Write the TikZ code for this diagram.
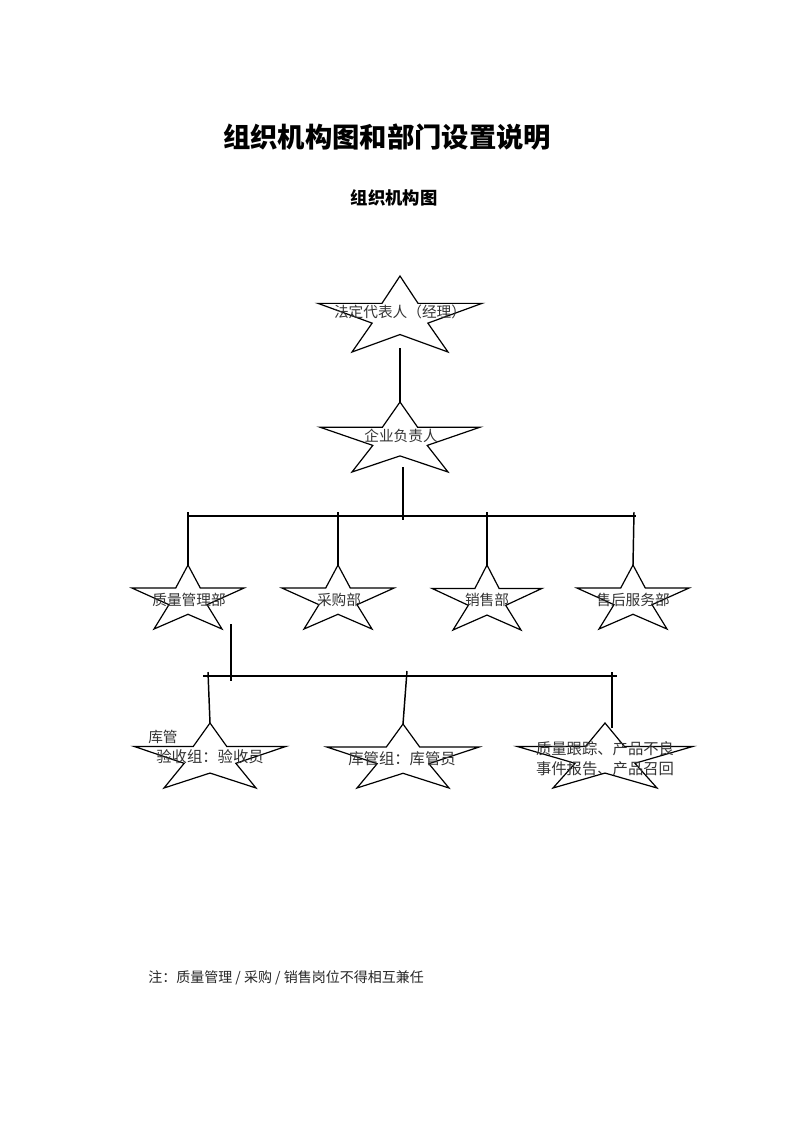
\documentclass[tikz,border=0pt]{standalone}
\usepackage{fontspec}
\setmainfont{Noto Sans CJK SC}
\newcommand\drawstar[6]{%
  \coordinate (#1-top) at (#2,#3);
  \draw[starline] (#2,#3) -- ({#2+0.22*#4},{#3+0.36*#5}) -- ({#2+#4},{#3+0.36*#5})
    -- ({#2+0.34*#4},{#3+0.62*#5}) -- ({#2+#6},{#3+#5}) -- (#2,{#3+0.77*#5})
    -- ({#2-#6},{#3+#5}) -- ({#2-0.34*#4},{#3+0.62*#5}) -- ({#2-#4},{#3+0.36*#5})
    -- ({#2-0.22*#4},{#3+0.36*#5}) -- cycle;
}
\begin{document}
\begin{tikzpicture}[x=0.75pt,y=-0.75pt,
  starline/.style={draw=black,line width=0.9pt,line join=miter},
  conn/.style={draw=black,line width=1.1pt},
  bus/.style={draw=black,line width=1.4pt},
  lbl/.style={inner sep=0pt,text=black!80,font=\fontsize{11}{13}\selectfont},
  lblb/.style={lbl,font=\fontsize{11.5}{14}\selectfont},
  ttl/.style={inner sep=0pt,font=\fontsize{20.5}{24}\selectfont\bfseries},
  sub/.style={inner sep=0pt,font=\fontsize{13}{16}\selectfont\bfseries}]
\useasboundingbox (0,0) rectangle (793,1122);
% titles
\node[ttl] (title) at (387,137) {组织机构图和部门设置说明};
\node[sub] (subtitle) at (394,198) {组织机构图};
% stars
\drawstar{s1}{400}{276}{82}{76}{48}
\drawstar{s2}{400}{402}{80}{70}{48}
\drawstar{q}{188}{565}{56}{64}{34}
\drawstar{c}{338}{565}{56}{64}{34}
\drawstar{x}{487}{565}{55}{65}{34}
\drawstar{h}{633}{565}{56}{64}{34}
\drawstar{y}{210}{723}{76}{65}{46}
\drawstar{k}{403}{724}{76}{64}{46}
\drawstar{z}{605}{723}{88}{65}{52}
% labels
\node[lbl] (l1) at (400,312) {法定代表人（经理）};
\node[lbl] (l2) at (401,436) {企业负责人};
\node[lbl] (lq) at (189,600) {质量管理部};
\node[lbl] (lc) at (339,600) {采购部};
\node[lbl] (lx) at (487,600) {销售部};
\node[lbl] (lh) at (633,600) {售后服务部};
\node[lbl,anchor=west] (lkg) at (148,737) {库管};
\node[lblb] (ly) at (210,757) {验收组：验收员};
\node[lblb] (lk) at (402,759) {库管组：库管员};
\node[lblb,align=center] (lz) at (605,759) {质量跟踪、产品不良\\[1pt]事件报告、产品召回};
% connector coordinates
\coordinate (s1b) at (400,348);
\coordinate (s2b) at (403,467);
\coordinate (b1m) at (403,520);
\coordinate (b1l) at (187,516);
\coordinate (b1r) at (636,516);
\coordinate (tq) at (188,512);
\coordinate (tc) at (338,512);
\coordinate (tx) at (487,512);
\coordinate (th) at (634,512);
\coordinate (qb) at (231,624);
\coordinate (b2m) at (231,681);
\coordinate (b2l) at (203,676);
\coordinate (b2r) at (617,676);
\coordinate (ty) at (208,672);
\coordinate (tk) at (407,671);
\coordinate (tz) at (612,672);
\coordinate (ez) at (612,728);
% connectors
\draw[conn] (s1b) -- (s2-top);
\draw[conn] (s2b) -- (b1m);
\draw[bus] (b1l) -- (b1r);
\draw[conn] (tq) -- (q-top);
\draw[conn] (tc) -- (c-top);
\draw[conn] (tx) -- (x-top);
\draw[conn] (th) -- (h-top);
\draw[conn] (qb) -- (b2m);
\draw[bus] (b2l) -- (b2r);
\draw[conn] (ty) -- (y-top);
\draw[conn] (tk) -- (k-top);
\draw[conn] (tz) -- (ez);
% note
\node[lbl,anchor=west,text=black!85,font=\fontsize{10.5}{12}\selectfont] (note) at (148,978) {注：质量管理 / 采购 / 销售岗位不得相互兼任};
\end{tikzpicture}
\end{document}
